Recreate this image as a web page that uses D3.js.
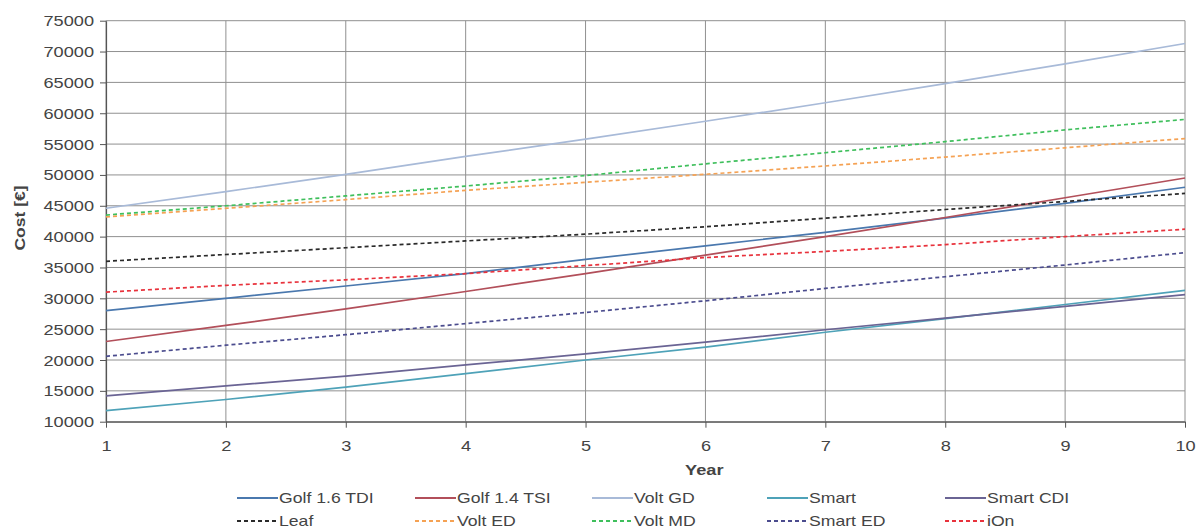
<!DOCTYPE html>
<html><head><meta charset="utf-8">
<script src="https://cdn.jsdelivr.net/npm/d3@7"></script>
<style>body{margin:0;background:#fff}svg{display:block}text{font-family:"Liberation Sans",Arial,sans-serif;fill:#444}</style>
</head><body>
<script>
const years = [1,2,3,4,5,6,7,8,9,10];
const yTicks = [10000,15000,20000,25000,30000,35000,40000,45000,50000,55000,60000,65000,70000,75000];
const seriesNames = ["Golf 1.6 TDI","Golf 1.4 TSI","Volt GD","Smart","Smart CDI","Leaf","Volt ED","Volt MD","Smart ED","iOn"];
const golfTDI  = [28000,30000,32000,34000,36300,38500,40700,43000,45400,48000];
const golfTSI  = [23000,25600,28300,31100,34000,37000,40000,43100,46300,49500];
const voltGD   = [44600,47300,50100,53000,55800,58700,61700,64800,68000,71300];
const smart    = [11800,13600,15600,17800,20000,22100,24500,26700,29000,31300];
const smartCDI = [14200,15800,17400,19200,21000,22900,24900,26800,28700,30600];
const leaf     = [36000,37100,38200,39300,40400,41600,43000,44400,45700,47000];
const voltED   = [43200,44600,46000,47500,48800,50100,51450,52900,54400,55900];
const voltMD   = [43500,45000,46600,48200,49900,51800,53600,55400,57300,59000];
const smartED  = [20600,22400,24100,25900,27700,29600,31600,33500,35400,37400];
const iOn      = [31000,32100,33000,34000,35300,36600,37600,38700,40000,41200];
const values = [golfTDI,golfTSI,voltGD,smart,smartCDI,leaf,voltED,voltMD,smartED,iOn];
const colors = ["#4a78ae","#b24f5a","#a8bad8","#4ea2b8","#6a6494","#2a2a2a","#f5a254","#3fbf5c","#4b4c8e","#e8323c"];
const dashed = [false,false,false,false,false,true,true,true,true,true];

const W=1200,H=530, SX=1.3;
const m={left:106,right:15,top:20.7,bottom:108.3};
const svg=d3.select("body").append("svg").attr("width",W).attr("height",H);
const x=d3.scaleLinear().domain([1,10]).range([m.left,W-m.right]);
const y=d3.scaleLinear().domain([10000,75000]).range([H-m.bottom,m.top]);

// gridlines
svg.append("g").selectAll("line.h").data(yTicks).join("line")
  .attr("x1",x(1)).attr("x2",x(10)).attr("y1",d=>y(d)).attr("y2",d=>y(d))
  .attr("stroke","#909090").attr("stroke-width",1);
svg.append("g").selectAll("line.v").data(years).join("line")
  .attr("x1",d=>x(d)).attr("x2",d=>x(d)).attr("y1",y(10000)).attr("y2",y(75000))
  .attr("stroke","#909090").attr("stroke-width",1);

// axes
const ya=svg.append("g").attr("transform",`translate(${x(1)},0)`)
  .call(d3.axisLeft(y).tickValues(yTicks).tickFormat(d3.format("d")).tickSize(6).tickSizeOuter(0));
ya.select(".domain").attr("stroke","#555").attr("stroke-width",1.2);
ya.selectAll(".tick line").attr("stroke","#555");
ya.selectAll(".tick text").attr("x",-12/SX).attr("dy","0.36em").attr("transform",`scale(${SX},1)`)
  .style("font-size","14px").attr("fill","#444");
const xa=svg.append("g").attr("transform",`translate(0,${y(10000)})`)
  .call(d3.axisBottom(x).tickValues(years).tickFormat(d3.format("d")).tickSize(6).tickSizeOuter(0));
xa.select(".domain").attr("stroke","#555").attr("stroke-width",1.2);
xa.selectAll(".tick line").attr("stroke","#555");
xa.selectAll(".tick text").attr("y",29).attr("dy",0).attr("transform",`scale(${SX},1)`)
  .style("font-size","14px").attr("fill","#444");
svg.selectAll(".tick text").style("font-family","'Liberation Sans',Arial,sans-serif");

// titles
svg.append("text").attr("transform",`translate(${x(5.99)},475) scale(1.3,1)`).attr("text-anchor","middle")
  .style("font-size","14px").style("font-weight","bold").attr("fill","#333").text("Year");
svg.append("text").attr("transform",`translate(25,218) rotate(-90) scale(1.25,1)`).attr("text-anchor","middle")
  .style("font-size","14px").style("font-weight","bold").attr("fill","#333").text("Cost [€]");

// lines
const line=d3.line().x((d,i)=>x(years[i])).y(d=>y(d));
const lg=svg.append("g");
values.forEach((v,i)=>{
  lg.append("path").datum(v).attr("d",line).attr("fill","none")
    .attr("stroke",colors[i]).attr("stroke-width",1.7)
    .attr("stroke-dasharray",dashed[i]?"4,3":null);
});

// legend
const colX=[237,415,592,767,945], rowY=[498,521];
seriesNames.forEach((n,i)=>{
  const cx=colX[i%5], cy=rowY[Math.floor(i/5)];
  svg.append("line").attr("x1",cx).attr("x2",cx+41).attr("y1",cy).attr("y2",cy)
    .attr("stroke",colors[i]).attr("stroke-width",2).attr("stroke-dasharray",dashed[i]?"4,3":null);
  svg.append("text").attr("transform",`translate(${cx+42},${cy+5}) scale(1.26,1)`)
    .style("font-size","14px").attr("fill","#444").text(n);
});
</script>
</body></html>
